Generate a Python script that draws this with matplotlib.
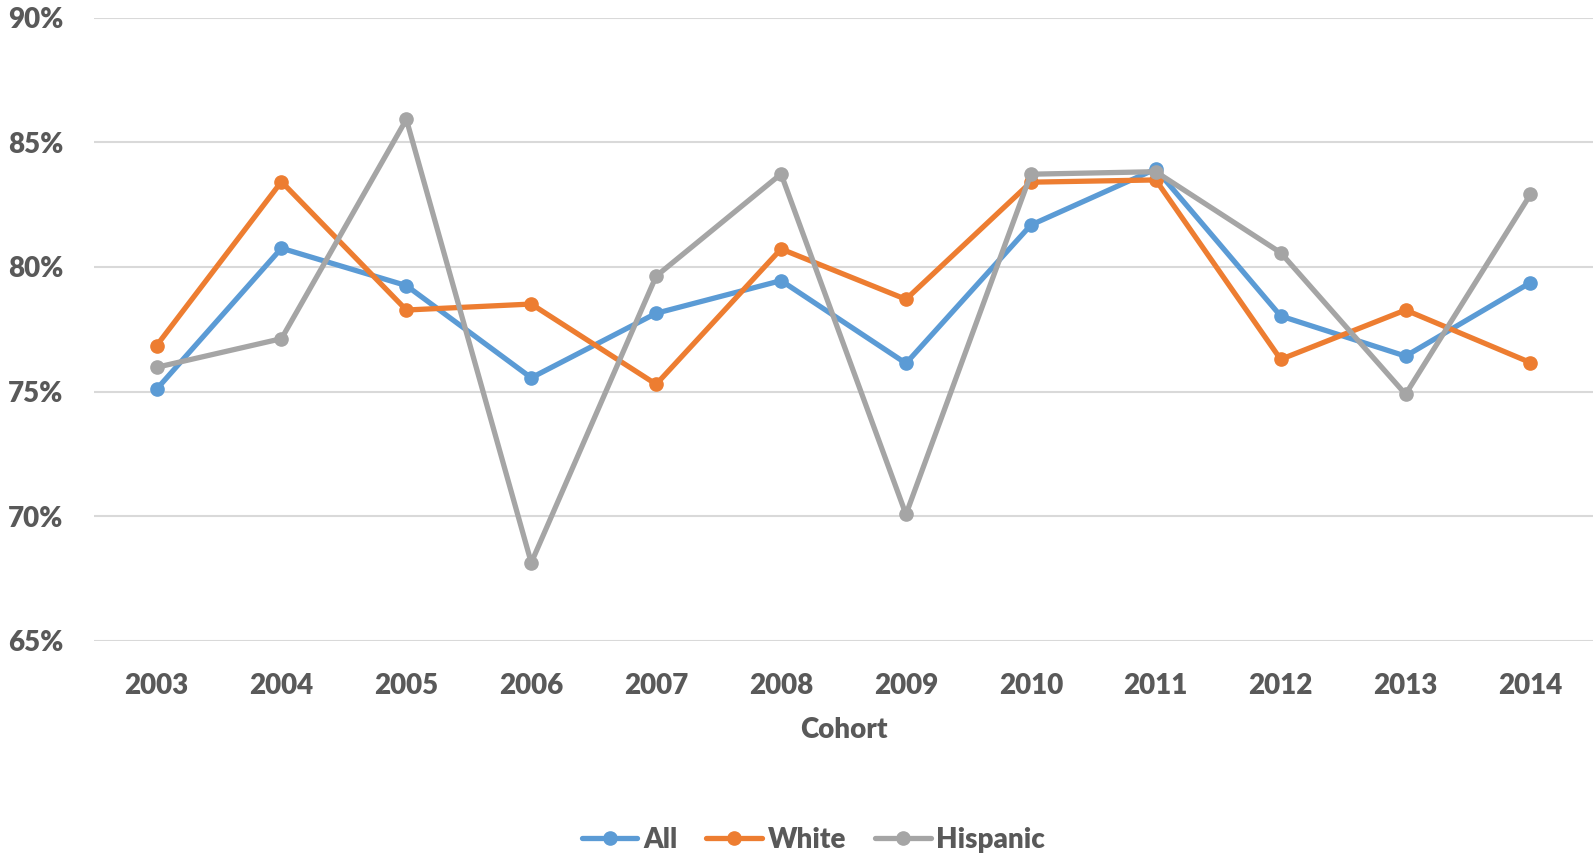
import matplotlib
matplotlib.use("Agg")
import matplotlib.pyplot as plt
from matplotlib.ticker import FuncFormatter

cohorts = ["2003", "2004", "2005", "2006", "2007", "2008", "2009", "2010", "2011", "2012", "2013", "2014"]
all_vals = [75.09, 80.75, 79.25, 75.55, 78.14, 79.45, 76.13, 81.68, 83.93, 78.03, 76.42, 79.37]
white_vals = [76.84, 83.42, 78.27, 78.51, 75.29, 80.72, 78.70, 83.40, 83.49, 76.29, 78.27, 76.16]
hispanic_vals = [75.97, 77.12, 85.92, 68.13, 79.63, 83.73, 70.07, 83.72, 83.82, 80.57, 74.89, 82.91]
y_ticks = [65, 70, 75, 80, 85, 90]

plt.rcParams['font.family'] = ['Lato', 'DejaVu Sans']
text_color = "#595959"
fs = 20
fw = 'heavy'

fig = plt.figure(figsize=(15.95, 8.59), dpi=100)
ax = fig.add_axes([0.059, 0.2541, 0.9397, 0.7253])

x = list(range(len(cohorts)))
series = [("All", all_vals, "#5B9BD5"), ("White", white_vals, "#ED7D31"), ("Hispanic", hispanic_vals, "#A5A5A5")]
for name, vals, col in series:
    ax.plot(x, vals, color=col, lw=3.8, marker='o', markersize=9.5, label=name,
            solid_capstyle='round', solid_joinstyle='round', zorder=3)

ax.set_xlim(-0.5, len(cohorts) - 0.5)
ax.set_ylim(65, 90)
ax.set_yticks(y_ticks)
ax.yaxis.set_major_formatter(FuncFormatter(lambda v, p: f"{v:.0f}%"))
ax.set_xticks(x)
ax.set_xticklabels(cohorts)
ax.grid(axis='y', color="#D9D9D9", lw=1.5, zorder=0)
ax.set_axisbelow(True)
for s in ax.spines.values():
    s.set_visible(False)
ax.tick_params(axis='both', length=0, labelsize=fs, labelcolor=text_color)
ax.tick_params(axis='y', pad=22)
ax.tick_params(axis='x', pad=23)
for lab in ax.get_xticklabels() + ax.get_yticklabels():
    lab.set_fontweight(fw)

ax.set_xlabel("Cohort", fontsize=fs, fontweight=fw, color=text_color, labelpad=13)

leg = fig.legend(loc='center', bbox_to_anchor=(0.51, 0.022), ncol=3, frameon=False,
                 handlelength=2.0, handletextpad=0.2, columnspacing=1.05,
                 prop={'weight': fw, 'size': fs})
for t in leg.get_texts():
    t.set_color(text_color)

fig.savefig("out.png", dpi=100)
